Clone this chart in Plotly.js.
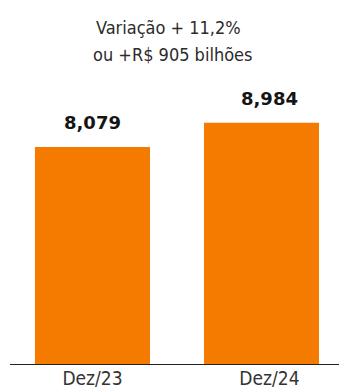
<!DOCTYPE html>
<html><head><meta charset="utf-8">
<script src="https://cdn.plot.ly/plotly-3.0.1.min.js"></script>
<style>html,body{margin:0;padding:0;background:#fff}#c{width:339px;height:392px}</style>
</head><body><div id="c"></div>
<script>
const categories = ["Dez/23", "Dez/24"];
const values = [8.079, 8.984];
const valueLabels = ["8,079", "8,984"];
const titleLines = ["Variação + 11,2%", "ou +R$ 905 bilhões"];
const barColor = "#F47A00";
const cond = "DejaVu Sans Condensed, DejaVu Sans, sans-serif";

const trace = {
  type: "bar",
  x: categories,
  y: values,
  width: 0.65,
  offset: [-0.325, -0.37],
  marker: {color: barColor, line: {width: 0}},
  hoverinfo: "none"
};
const valueAnnotations = values.map((v, i) => ({
  x: categories[i], y: v, xref: "x", yref: "y",
  text: "<b>" + valueLabels[i] + "</b>",
  showarrow: false, yanchor: "bottom", yshift: 12,
  font: {family: "DejaVu Sans, sans-serif", size: 18, color: "#151515"}
}));
const titlePos = [{x: 0.483, y: 0.926}, {x: 0.494, y: 0.852}];
const titleAnnotations = titleLines.map((t, i) => ({
  xref: "paper", yref: "paper", x: titlePos[i].x, y: titlePos[i].y,
  xanchor: "center", yanchor: "middle", showarrow: false, text: t,
  font: {family: cond, size: 18, color: "#2b2b2b"}
}));
const layout = {
  width: 339, height: 392,
  margin: {l: 10, r: 0, t: 0, b: 27},
  paper_bgcolor: "#fff", plot_bgcolor: "#fff",
  showlegend: false,
  xaxis: {
    type: "category",
    range: [-0.466, 1.393],
    showgrid: false, zeroline: false, showline: false,
    ticks: "", tickfont: {family: cond, size: 19, color: "#333"},
    fixedrange: true
  },
  yaxis: {range: [0, 13.53], visible: false, fixedrange: true},
  shapes: [{
    type: "line", xref: "paper", yref: "y", x0: 0, x1: 1, y0: 0, y1: 0,
    line: {color: "#222", width: 2}, layer: "above"
  }],
  annotations: titleAnnotations.concat(valueAnnotations)
};
Plotly.newPlot("c", [trace], layout, {displayModeBar: false, staticPlot: true});
</script></body></html>
